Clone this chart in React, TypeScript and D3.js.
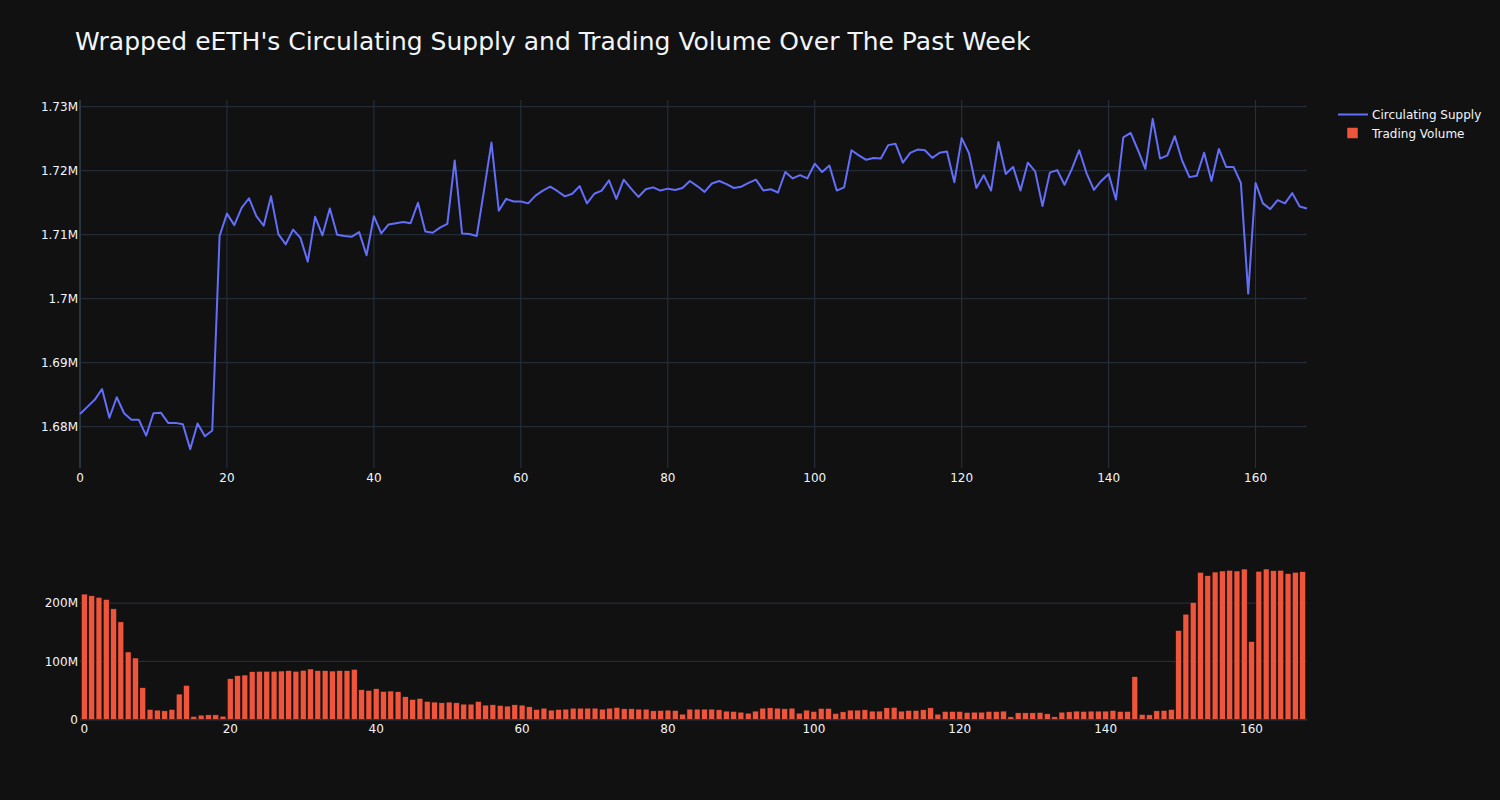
import React from "react";
import * as d3 from "d3";

// Circulating supply, in thousands of tokens (hourly, index 0..167)
const supplyK: number[] = [
  1682.0, 1683.1, 1684.2, 1685.9, 1681.4, 1684.6, 1682.1, 1681.1, 1681.1, 1678.6,
  1682.1, 1682.2, 1680.6, 1680.6, 1680.4, 1676.5, 1680.5, 1678.5, 1679.4, 1709.8,
  1713.3, 1711.5, 1714.2, 1715.7, 1712.9, 1711.4, 1716.0, 1710.1, 1708.5, 1710.8,
  1709.5, 1705.8, 1712.8, 1709.9, 1714.1, 1710.0, 1709.8, 1709.7, 1710.4, 1706.8,
  1712.9, 1710.2, 1711.6, 1711.8, 1712.0, 1711.8, 1715.0, 1710.5, 1710.3, 1711.1,
  1711.7, 1721.6, 1710.2, 1710.1, 1709.8, 1717.0, 1724.4, 1713.75, 1715.6, 1715.2,
  1715.2, 1714.9, 1716.1, 1716.9, 1717.5, 1716.8, 1716.0, 1716.4, 1717.6, 1714.9,
  1716.4, 1716.9, 1718.5, 1715.6, 1718.6, 1717.2, 1715.9, 1717.1, 1717.4, 1716.9,
  1717.2, 1717.0, 1717.3, 1718.4, 1717.6, 1716.7, 1718.0, 1718.4, 1717.9, 1717.3,
  1717.5, 1718.1, 1718.6, 1716.9, 1717.1, 1716.6, 1719.8, 1718.8, 1719.3, 1718.8,
  1721.1, 1719.8, 1720.8, 1716.9, 1717.4, 1723.2, 1722.4, 1721.7, 1722.0, 1721.9,
  1724.0, 1724.2, 1721.25, 1722.8, 1723.3, 1723.2, 1722.0, 1722.8, 1723.0, 1718.2,
  1725.1, 1722.7, 1717.3, 1719.3, 1716.9, 1724.5, 1719.5, 1720.6, 1716.9, 1721.25,
  1719.9, 1714.5, 1719.7, 1720.1, 1717.8, 1720.3, 1723.2, 1719.6, 1717.0, 1718.4,
  1719.5, 1715.5, 1725.2, 1725.9, 1723.2, 1720.3, 1728.1, 1721.9, 1722.4, 1725.4,
  1721.6, 1719.0, 1719.2, 1722.8, 1718.4, 1723.4, 1720.6, 1720.6, 1718.1, 1700.8,
  1718.1, 1714.9, 1714.0, 1715.4, 1714.9, 1716.5, 1714.4, 1714.1,
];

// Trading volume, in millions (index 0..167)
const volumeM: number[] = [
  215.5, 212.6, 209.8, 206.3, 190.2, 167.8, 116.1, 105.7, 54.6, 17.2,
  16.1, 14.9, 17.2, 43.7, 58.6, 5.2, 7.5, 8.0, 8.0, 5.7,
  70.1, 75.3, 76.4, 82.2, 82.8, 82.8, 82.8, 83.3, 83.9, 82.8,
  84.5, 86.8, 83.9, 83.9, 83.3, 83.9, 83.9, 86.2, 51.1, 50.0,
  52.9, 48.3, 48.9, 47.7, 39.1, 34.5, 36.2, 31.0, 29.9, 28.7,
  29.9, 28.7, 26.4, 26.4, 31.0, 24.7, 25.3, 24.1, 23.0, 25.3,
  24.7, 21.8, 17.2, 19.5, 16.1, 17.2, 17.8, 19.5, 19.5, 19.5,
  19.5, 17.8, 19.5, 20.7, 18.4, 18.4, 17.8, 17.8, 14.9, 15.5,
  16.1, 15.5, 9.2, 17.8, 17.8, 17.8, 17.8, 16.7, 14.4, 13.8,
  12.6, 10.9, 14.4, 19.5, 20.1, 19.5, 18.4, 19.5, 10.9, 16.1,
  13.8, 19.0, 19.0, 10.3, 13.2, 16.1, 16.1, 16.7, 14.4, 14.4,
  20.1, 20.7, 14.4, 15.5, 15.5, 16.7, 20.1, 9.2, 13.8, 13.8,
  13.8, 12.1, 12.6, 12.6, 13.8, 13.8, 14.4, 4.6, 11.5, 11.5,
  11.5, 12.1, 9.8, 4.6, 12.6, 13.2, 14.4, 13.8, 14.4, 14.4,
  14.4, 15.5, 13.8, 13.8, 73.6, 8.6, 8.0, 14.9, 15.5, 17.2,
  152.9, 181.0, 201.1, 252.9, 247.1, 253.4, 255.2, 256.3, 255.2, 258.6,
  133.9, 254.6, 258.6, 255.7, 256.3, 250.6, 252.9, 254.0,
];

const supplyTicks: number[] = [1680, 1690, 1700, 1710, 1720, 1730];
const supplyTickLabels: string[] = ["1.68M", "1.69M", "1.7M", "1.71M", "1.72M", "1.73M"];
const volumeTicks: number[] = [0, 100, 200];
const volumeTickLabels: string[] = ["0", "100M", "200M"];
const xTicks: number[] = [0, 20, 40, 60, 80, 100, 120, 140, 160];
const seriesNames: string[] = ["Circulating Supply", "Trading Volume"];
const title = "Wrapped eETH's Circulating Supply and Trading Volume Over The Past Week";

const W = 1500;
const H = 800;
const BG = "#111111";
const GRID = "#283442";
const TEXT = "#f2f5fa";
const LINE = "#636efa";
const BAR = "#EF553B";
const FONT = "'DejaVu Sans', Verdana, sans-serif";

const PL = 80;
const PR = 1307;
const TOP1 = 100;
const BOT1 = 468;
const TOP2 = 561;
const BOT2 = 719.5;

export default function App() {
  const idx = supplyK.map((_, i) => i);
  const x1 = d3.scaleLinear().domain([0, supplyK.length - 1]).range([PL, PR]);
  const y1 = d3.scaleLinear().domain([1673.55, 1731.05]).range([BOT1, TOP1]);
  const xb = d3.scaleBand<number>().domain(idx).range([PL, PR]).padding(0.2);
  const y2 = d3.scaleLinear().domain([0, 272.4]).range([BOT2, TOP2]);

  const linePath = d3
    .line<number>()
    .x((_, i) => x1(i))
    .y((d) => y1(d))(supplyK) as string;

  const bw = xb.bandwidth();

  return (
    <svg width={W} height={H} style={{ display: "block", position: "absolute", left: 0, top: 0, background: BG }} fontFamily={FONT}>
      <rect x={0} y={0} width={W} height={H} fill={BG} />
      <text x={75} y={50} fill={TEXT} fontSize={25}>{title}</text>

      {/* Top panel grid */}
      {xTicks.map((t) => (
        <line key={"vx" + t} x1={x1(t)} x2={x1(t)} y1={TOP1} y2={BOT1} stroke={GRID} strokeWidth={t === 0 ? 2 : 1} />
      ))}
      {supplyTicks.map((t) => (
        <line key={"hy" + t} x1={PL} x2={PR} y1={y1(t)} y2={y1(t)} stroke={GRID} strokeWidth={1} />
      ))}
      {supplyTicks.map((t, i) => (
        <text key={"ly" + t} x={78} y={y1(t)} dy="0.35em" textAnchor="end" fill={TEXT} fontSize={12}>
          {supplyTickLabels[i]}
        </text>
      ))}
      {xTicks.map((t) => (
        <text key={"lx" + t} x={x1(t)} y={482} textAnchor="middle" fill={TEXT} fontSize={12}>
          {t}
        </text>
      ))}
      <path d={linePath} fill="none" stroke={LINE} strokeWidth={2} strokeLinejoin="round" />

      {/* Bottom panel */}
      {volumeTicks.map((t) => (
        <line key={"hb" + t} x1={PL} x2={PR} y1={y2(t)} y2={y2(t)} stroke={GRID} strokeWidth={t === 0 ? 2 : 1} />
      ))}
      {volumeM.map((v, i) => (
        <rect
          key={"b" + i}
          x={xb(i)}
          y={y2(v)}
          width={bw}
          height={y2(0) - y2(v)}
          fill={BAR}
          stroke="rgb(17,17,17)"
          strokeWidth={0.5}
        />
      ))}
      {volumeTicks.map((t, i) => (
        <text key={"lb" + t} x={78} y={y2(t)} dy="0.35em" textAnchor="end" fill={TEXT} fontSize={12}>
          {volumeTickLabels[i]}
        </text>
      ))}
      {xTicks.map((t) => (
        <text key={"lbx" + t} x={(xb(t) as number) + bw / 2} y={733} textAnchor="middle" fill={TEXT} fontSize={12}>
          {t}
        </text>
      ))}

      {/* Legend */}
      <line x1={1338} x2={1368} y1={114.5} y2={114.5} stroke={LINE} strokeWidth={2} />
      <text x={1372} y={119} fill={TEXT} fontSize={12}>{seriesNames[0]}</text>
      <rect x={1347} y={127.5} width={11} height={11} fill={BAR} stroke="rgb(17,17,17)" strokeWidth={0.5} />
      <text x={1372} y={138} fill={TEXT} fontSize={12}>{seriesNames[1]}</text>
    </svg>
  );
}
